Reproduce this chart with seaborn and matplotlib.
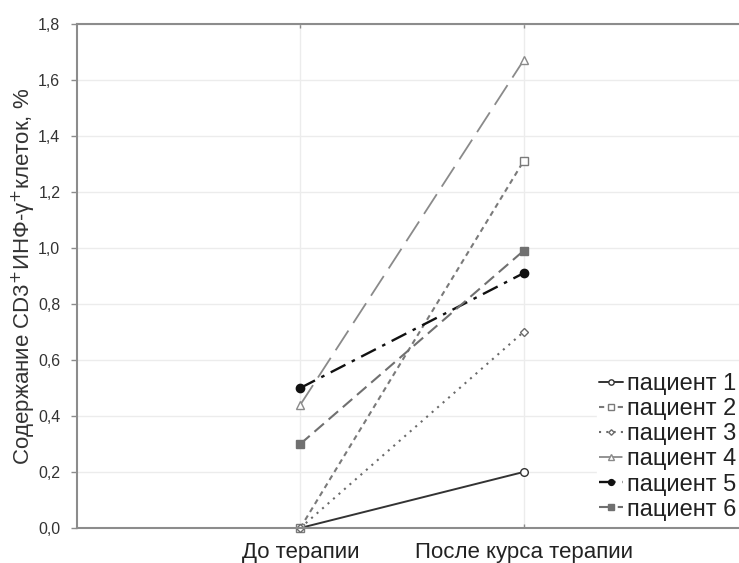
import matplotlib
matplotlib.use("Agg")
import matplotlib.pyplot as plt
import seaborn as sns
import pandas as pd

sns.set_theme(style="white")
plt.rcParams['font.family'] = ['Liberation Sans', 'DejaVu Sans']

stages = ["До терапии", "После курса терапии"]
patients = ["пациент 1", "пациент 2", "пациент 3", "пациент 4", "пациент 5", "пациент 6"]
before = [0.0, 0.0, 0.0, 0.44, 0.50, 0.30]
after = [0.20, 1.31, 0.70, 1.67, 0.91, 0.99]
yticks = [0.0, 0.2, 0.4, 0.6, 0.8, 1.0, 1.2, 1.4, 1.6, 1.8]

styles = [
    dict(color="#333333", ls="-", marker="o", mfc="white", ms=5.5, lw=1.4),
    dict(color="#7a7a7a", ls=(0, (2.5, 2)), marker="s", mfc="white", ms=5.5, lw=1.5),
    dict(color="#6a6a6a", ls=(0, (1, 2.5)), marker="D", mfc="white", ms=4, lw=1.5),
    dict(color="#8a8a8a", ls=(0, (13, 5)), marker="^", mfc="white", ms=6, lw=1.3),
    dict(color="#111111", ls=(0, (7, 3, 1.5, 3)), marker="o", mfc="#111111", ms=6, lw=1.7),
    dict(color="#707070", ls=(0, (6, 3)), marker="s", mfc="#707070", ms=6, lw=1.5),
]

fig = plt.figure(figsize=(7.39, 5.63), dpi=100)
ax = fig.add_axes([77/739, 1-528/563, 1-77/739, (528-24)/563])

for p, b, a, st in zip(patients, before, after, styles):
    df = pd.DataFrame({"x": [1, 2], "y": [b, a]})
    sns.lineplot(data=df, x="x", y="y", ax=ax, color=st["color"], linestyle=st["ls"],
                 marker=st["marker"], markerfacecolor=st["mfc"], markeredgecolor=st["color"],
                 markersize=st["ms"], linewidth=st["lw"], markeredgewidth=1.0,
                 label=p, legend=False, clip_on=False)

ax.set_xlim(0, 2.965)
ax.set_ylim(0, 1.8)
ax.set_yticks(yticks)
ax.set_yticklabels([f"{v:.1f}".replace(".", ",") for v in yticks], fontsize=11.5, color="#333333")
ax.set_xticks([1, 2])
ax.set_xticklabels(stages, fontsize=16, color="#222222")
ax.set_xlabel("")
ax.set_ylabel("Содержание CD3$^{+}$ИНФ-γ$^{+}$клеток, %", fontsize=16, color="#333333", labelpad=0)

ax.grid(True, color="#ececec", lw=1.0)
for s in ["left", "top", "bottom"]:
    ax.spines[s].set_color("#8c8c8c")
    ax.spines[s].set_linewidth(1.5)
ax.spines["right"].set_visible(False)
ax.tick_params(axis="y", direction="out", length=4, width=1, color="#8c8c8c", pad=8, left=True)
ax.tick_params(axis="x", direction="in", length=3, width=1, color="#8c8c8c", pad=10, bottom=True, top=True)

handles, labels = ax.get_legend_handles_labels()
leg = ax.legend(handles, labels, loc="lower right", bbox_to_anchor=(1.0, 0.01), frameon=True,
                facecolor="white", edgecolor="white", framealpha=1.0, fontsize=17,
                handlelength=1.0, handletextpad=0.2, labelspacing=0.13, borderpad=0.1,
                borderaxespad=0.0, markerscale=0.7)
for t in leg.get_texts():
    t.set_color("#222222")

fig.savefig("out.png", dpi=100)
